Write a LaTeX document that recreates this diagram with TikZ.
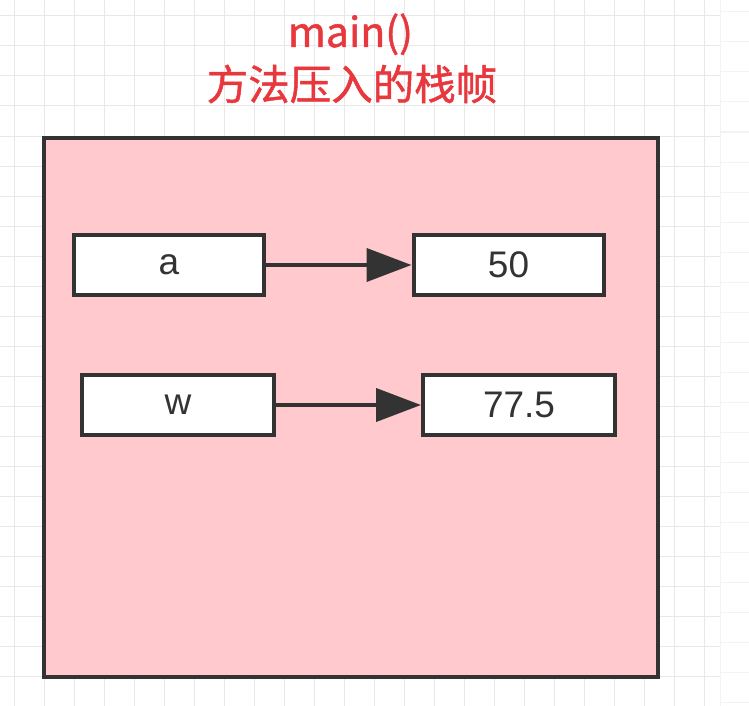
\documentclass[tikz,border=0pt]{standalone}
\usepackage{fontspec}
\setmainfont{Liberation Sans}
\newfontfamily\cjk[FakeBold=1.2]{Noto Sans CJK SC}
\usetikzlibrary{arrows.meta}
\definecolor{gridc}{RGB}{232,232,234}
\definecolor{gridl}{RGB}{243,243,244}
\definecolor{framefill}{RGB}{255,201,205}
\definecolor{edge}{RGB}{51,51,51}
\definecolor{titlered}{RGB}{232,56,62}
\tikzset{
  cell/.style={draw=edge, line width=4pt, fill=white, minimum width=190pt, minimum height=60pt,
    inner sep=0pt, text=edge, font=\fontsize{37}{40}\selectfont},
  link/.style={draw=edge, line width=4pt, -{Triangle[length=45pt,width=33pt]}},
  titletext/.style={text=titlered, inner sep=0pt}
}
\begin{document}
\begin{tikzpicture}[x=1pt,y=-1pt]
\useasboundingbox (0,0) rectangle (749,706);
\fill[white] (0,0) rectangle (749,706);
% grid
\foreach \i in {0,...,23} {\draw[gridc, line width=1pt] (14+30*\i,0) -- (14+30*\i,706);}
\draw[gridl, line width=1pt] (720,0) -- (720,706);
\foreach \j in {0,...,23} {\draw[gridc, line width=1pt] (0,16+30*\j) -- (720,16+30*\j);
  \draw[gridl, line width=1pt] (720,12+30*\j) -- (749,12+30*\j);}
% frame
\node[draw=edge, line width=4.5pt, fill=framefill, minimum width=614pt, minimum height=539pt, inner sep=0pt]
  (frame) at (351,407.5) {};
% title
\node[titletext, font=\cjk\fontsize{41}{44}\selectfont, anchor=base] (t1) at (350.5,47) {main()};
\node[titletext, font=\cjk\fontsize{41.5}{44}\selectfont] (t2) at (352,84) {方法压入的栈帧};
% cells
\node[cell] (a) at (169,265) {a};
\node[cell] (v50) at (508.5,265) {50};
\node[cell, minimum width=192pt] (w) at (178,405) {w};
\node[cell, minimum width=192pt] (v775) at (519,405) {77.5};
\draw[link] (a) -- (v50);
\draw[link] (w) -- (v775);
\end{tikzpicture}
\end{document}
